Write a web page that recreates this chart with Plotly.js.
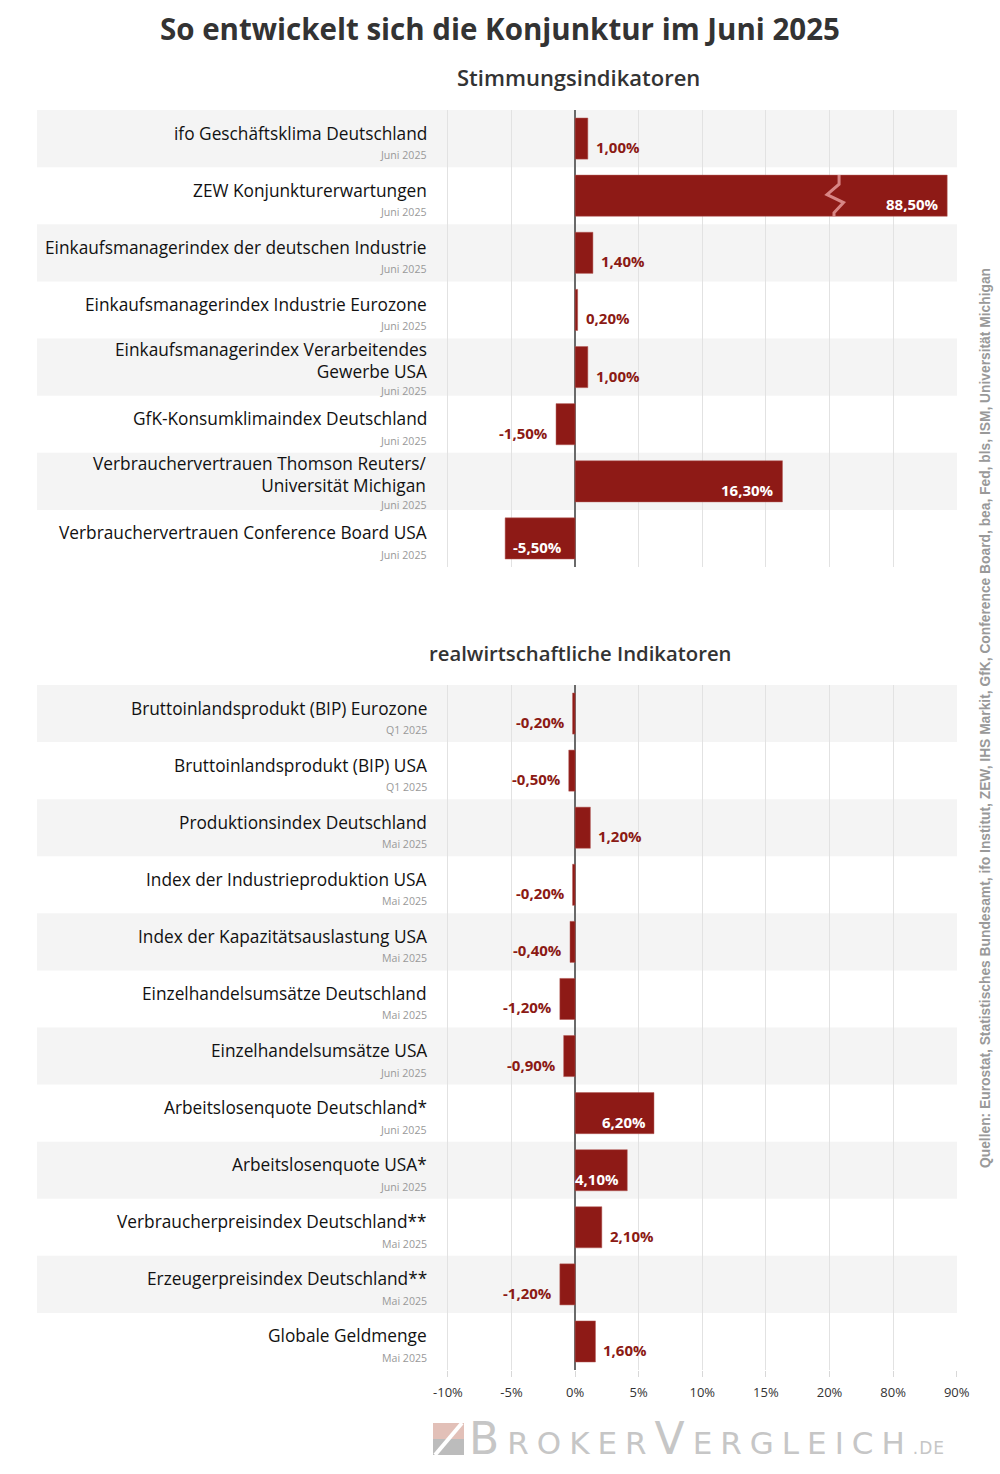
<!DOCTYPE html>
<html>
<head>
<meta charset="utf-8">
<script src="https://cdn.plot.ly/plotly-3.0.1.min.js"></script>
<style>html,body{margin:0;padding:0;background:#fff;}#chart{width:1000px;height:1474px;}</style>
</head>
<body>
<div id="chart"></div>
<script>
// ---------- data ----------
const topLabels = [
  "ifo Geschäftsklima Deutschland",
  "ZEW Konjunkturerwartungen",
  "Einkaufsmanagerindex der deutschen Industrie",
  "Einkaufsmanagerindex Industrie Eurozone",
  "Einkaufsmanagerindex Verarbeitendes<br>Gewerbe USA",
  "GfK-Konsumklimaindex Deutschland",
  "Verbrauchervertrauen Thomson Reuters/<br>Universität Michigan",
  "Verbrauchervertrauen Conference Board USA"
];
const topDates = ["Juni 2025","Juni 2025","Juni 2025","Juni 2025","Juni 2025","Juni 2025","Juni 2025","Juni 2025"];
const topValues = [1.00, 88.50, 1.40, 0.20, 1.00, -1.50, 16.30, -5.50];

const botLabels = [
  "Bruttoinlandsprodukt (BIP) Eurozone",
  "Bruttoinlandsprodukt (BIP) USA",
  "Produktionsindex Deutschland",
  "Index der Industrieproduktion USA",
  "Index der Kapazitätsauslastung USA",
  "Einzelhandelsumsätze Deutschland",
  "Einzelhandelsumsätze USA",
  "Arbeitslosenquote Deutschland*",
  "Arbeitslosenquote USA*",
  "Verbraucherpreisindex Deutschland**",
  "Erzeugerpreisindex Deutschland**",
  "Globale Geldmenge"
];
const botDates = ["Q1 2025","Q1 2025","Mai 2025","Mai 2025","Mai 2025","Mai 2025","Juni 2025","Juni 2025","Juni 2025","Mai 2025","Mai 2025","Mai 2025"];
const botValues = [-0.20, -0.50, 1.20, -0.20, -0.40, -1.20, -0.90, 6.20, 4.10, 2.10, -1.20, 1.60];

// broken axis: tick values and where they sit on the drawn scale
const tickValues = [-10, -5, 0, 5, 10, 15, 20, 80, 90];
const tickPositions = [-10, -5, 0, 5, 10, 15, 20, 25, 30];
const tickLabels = ["-10%", "-5%", "0%", "5%", "10%", "15%", "20%", "80%", "90%"];
const titleText = "So entwickelt sich die Konjunktur im Juni 2025";
const sub1 = "Stimmungsindikatoren";
const sub2 = "realwirtschaftliche Indikatoren";
const sourceText = "Quellen: Eurostat, Statistisches Bundesamt, ifo Institut, ZEW, IHS Markit, GfK, Conference Board, bea, Fed, bls, ISM, Universität Michigan";

// ---------- helpers ----------
function mapVal(v) {
  if (v <= tickValues[0]) return v;
  for (let i = 0; i < tickValues.length - 1; i++) {
    const a = tickValues[i], b = tickValues[i + 1];
    if (v >= a && v <= b) {
      return tickPositions[i] + (v - a) / (b - a) * (tickPositions[i + 1] - tickPositions[i]);
    }
  }
  return v;
}
function fmt(v) { return v.toFixed(2).replace('.', ',') + '%'; }

const W = 1000, H = 1474;
const ML = 37, MR = 43, MT = 110, MB = 104;
const plotW = W - ML - MR, plotH = H - MT - MB;
const px2x = p => (p - ML) / plotW;
const px2y = p => (H - MB - p) / plotH;

const BAR = '#8e1a16';
const LBL = '#8b1a14';
const FONT = 'Open Sans, Noto Sans, sans-serif';

const topDomain = [px2y(567), px2y(110)];
const botDomain = [px2y(1370), px2y(685)];

const shapes = [];
const annotations = [];

function buildPanel(labels, dates, values, xref, yref) {
  labels.forEach((lab, i) => {
    if (i % 2 === 0) {
      shapes.push({type: 'rect', xref: 'paper', yref: yref, x0: 0, x1: 1, y0: i - 0.5, y1: i + 0.5,
        fillcolor: '#f4f4f4', line: {width: 0}, layer: 'below'});
    }
    const two = lab.indexOf('<br>') >= 0;
    annotations.push({xref: xref, yref: yref, x: -11.5, y: i, text: lab, showarrow: false,
      xanchor: 'right', yanchor: 'middle', align: 'right', yshift: two ? 7 : 5.5,
      font: {family: FONT, size: 17.3, color: '#111111'}});
    annotations.push({xref: xref, yref: yref, x: -11.5, y: i, text: dates[i], showarrow: false,
      xanchor: 'right', yanchor: 'middle', align: 'right', yshift: two ? -23.5 : -16.5,
      font: {family: FONT, size: 10.6, color: '#999999'}});
    const v = values[i];
    const m = mapVal(v);
    const inside = Math.abs(m) >= 4;
    let xanchor, xshift;
    if (v >= 0) { xanchor = inside ? 'right' : 'left'; xshift = inside ? -6 : 6; }
    else { xanchor = inside ? 'left' : 'right'; xshift = inside ? 6 : -6; }
    annotations.push({xref: xref, yref: yref, x: m, y: i, text: '<b>' + fmt(v) + '</b>', showarrow: false,
      xanchor: xanchor, yanchor: 'middle', xshift: xshift, yshift: -8.5,
      font: {family: FONT, size: 15, color: inside ? '#ffffff' : LBL}});
  });
}
buildPanel(topLabels, topDates, topValues, 'x', 'y');
buildPanel(botLabels, botDates, botValues, 'x2', 'y2');

// titles
annotations.push({xref: 'paper', yref: 'paper', x: px2x(500), y: px2y(28), text: '<b>' + titleText + '</b>',
  showarrow: false, xanchor: 'center', yanchor: 'middle', font: {family: FONT, size: 29.5, color: '#333333'}});
annotations.push({xref: 'paper', yref: 'paper', x: px2x(578), y: px2y(77), text: sub1,
  showarrow: false, xanchor: 'center', yanchor: 'middle', font: {family: FONT, size: 22, color: '#333333', weight: 600}});
annotations.push({xref: 'paper', yref: 'paper', x: px2x(580), y: px2y(653), text: sub2,
  showarrow: false, xanchor: 'center', yanchor: 'middle', font: {family: FONT, size: 20.3, color: '#333333', weight: 600}});
// source (vertical)
annotations.push({xref: 'paper', yref: 'paper', x: px2x(986), y: px2y(718), text: '<b>' + sourceText + '</b>',
  showarrow: false, textangle: -90, xanchor: 'center', yanchor: 'middle',
  font: {family: 'Liberation Sans, Arial, sans-serif', size: 13.8, color: '#999999'}});
// logo text
annotations.push({xref: 'paper', yref: 'paper', x: px2x(467), y: px2y(1466), text:
  '<span style="font-size:44px;letter-spacing:8px">B</span><span style="letter-spacing:8px">ROKER</span>' +
  '<span style="font-size:44px;letter-spacing:8px">V</span><span style="letter-spacing:8px">ERGLEICH</span>' +
  '<span style="font-size:17px;letter-spacing:1px">.DE</span>',
  showarrow: false, xanchor: 'left', yanchor: 'bottom',
  font: {family: 'DejaVu Sans, sans-serif', size: 31, color: '#c6c6c6', weight: 400}});
// logo icon
shapes.push({type: 'rect', xref: 'paper', yref: 'paper', x0: px2x(433), x1: px2x(464), y0: px2y(1439), y1: px2y(1423),
  fillcolor: '#e2c0b8', line: {width: 0}});
shapes.push({type: 'rect', xref: 'paper', yref: 'paper', x0: px2x(433), x1: px2x(464), y0: px2y(1455), y1: px2y(1439),
  fillcolor: '#bcbcbc', line: {width: 0}});
shapes.push({type: 'line', xref: 'paper', yref: 'paper', x0: px2x(435), x1: px2x(462), y0: px2y(1455), y1: px2y(1423),
  line: {color: '#ffffff', width: 4}});

// break marker on the bar that crosses the axis break
const breakPos = tickPositions[6];
const zigTraces = [];
topValues.forEach((v, i) => {
  if (v > tickValues[6]) {
    zigTraces.push({type: 'scatter', mode: 'lines', xaxis: 'x', yaxis: 'y', hoverinfo: 'skip', showlegend: false,
      x: [breakPos + 0.75, breakPos + 0.75, breakPos - 0.2, breakPos + 1.1, breakPos + 0.35, breakPos + 0.35],
      y: [i - 0.36, i - 0.2, i - 0.02, i + 0.12, i + 0.3, i + 0.36],
      line: {color: 'rgba(235,160,160,0.8)', width: 3}});
  }
});

const traces = [
  {type: 'bar', orientation: 'h', xaxis: 'x', yaxis: 'y', x: topValues.map(mapVal), y: topValues.map((_, i) => i),
    width: 0.72, marker: {color: BAR, line: {color: '#b35a56', width: 0.5}}, hoverinfo: 'skip', showlegend: false},
  {type: 'bar', orientation: 'h', xaxis: 'x2', yaxis: 'y2', x: botValues.map(mapVal), y: botValues.map((_, i) => i),
    width: 0.72, marker: {color: BAR, line: {color: '#b35a56', width: 0.5}}, hoverinfo: 'skip', showlegend: false}
].concat(zigTraces);

const xRange = [-42.3, 30.02];
const xCommon = {range: xRange, tickmode: 'array', tickvals: tickPositions, ticktext: tickLabels,
  showgrid: true, gridcolor: '#e2e2e2', gridwidth: 1, zeroline: true, zerolinecolor: '#6a6a6a', zerolinewidth: 1.5,
  fixedrange: true, showline: false};

const layout = {
  width: W, height: H,
  margin: {l: ML, r: MR, t: MT, b: MB, pad: 0},
  paper_bgcolor: '#ffffff', plot_bgcolor: 'rgba(0,0,0,0)',
  font: {family: FONT},
  showlegend: false,
  bargap: 0,
  xaxis: Object.assign({}, xCommon, {anchor: 'y', showticklabels: false, ticks: ''}),
  yaxis: {domain: topDomain, range: [7.5, -0.5], showticklabels: false, showgrid: false, zeroline: false, fixedrange: true},
  xaxis2: Object.assign({}, xCommon, {anchor: 'y2', showticklabels: true, ticks: 'outside', ticklen: 6,
    ticklabelstandoff: 4, tickcolor: '#d8d8d8', tickfont: {family: FONT, size: 13, color: '#333333'}}),
  yaxis2: {domain: botDomain, range: [11.5, -0.5], showticklabels: false, showgrid: false, zeroline: false, fixedrange: true},
  shapes: shapes,
  annotations: annotations
};

Plotly.newPlot('chart', traces, layout, {displayModeBar: false, staticPlot: true});
</script>
</body>
</html>
